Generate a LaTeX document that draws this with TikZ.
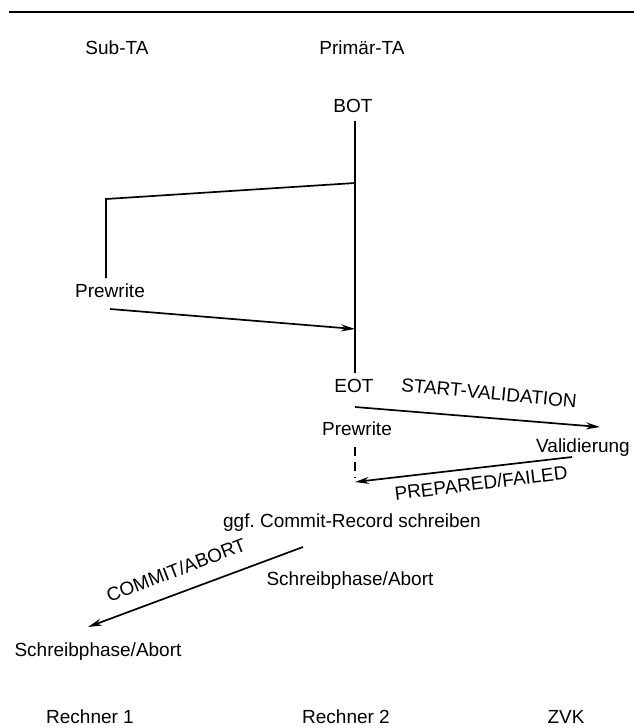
\documentclass[tikz,border=0pt]{standalone}
\usepackage{fontspec}
\setmainfont{Liberation Sans}
\usetikzlibrary{arrows.meta}
\begin{document}
\begin{tikzpicture}[x=1pt,y=-1pt,
  lbl/.style={inner sep=0pt, font=\fontsize{19}{22}\selectfont},
  ln/.style={line width=1.7pt},
  arr/.style={ln,-{Stealth[length=14pt,width=7pt]}}]
\useasboundingbox (0,0) rectangle (634,728);
% top rule
\coordinate (r1) at (9,12);
\coordinate (r2) at (634,12);
\draw[line width=2.8pt] (r1) -- (r2);
% headers
\node[lbl] (subta) at (117,48) {Sub-TA};
\node[lbl] (primta) at (362,48) {Primär-TA};
\node[lbl] (bot) at (353,106) {BOT};
% primary lifeline
\coordinate (v1) at (355,121);
\coordinate (v2) at (355,373);
\draw[ln] (v1) -- (v2);
% sub TA branch
\coordinate (b1) at (355,183);
\coordinate (b2) at (106,199);
\coordinate (b3) at (106,278);
\draw[ln] (b1) -- (b2) -- (b3);
\node[lbl] (pwl) at (110,291) {Prewrite};
\coordinate (a1) at (110,309);
\coordinate (a2) at (355,329);
\draw[arr] (a1) -- (a2);
% EOT
\node[lbl] (eot) at (354,386) {EOT};
\coordinate (s1) at (355,407);
\coordinate (s2) at (600,427);
\draw[arr] (s1) -- (s2);
\node[lbl, rotate=-5.5] (sv) at (489,393) {START-VALIDATION};
\node[lbl] (pwr) at (357,429) {Prewrite};
\node[lbl] (val) at (583,448) {Validierung};
\coordinate (d1) at (355,447);
\coordinate (d2) at (355,478);
\draw[ln, dash pattern=on 9pt off 6pt] (d1) -- (d2);
\coordinate (p1) at (572,457);
\coordinate (p2) at (355,482);
\draw[arr] (p1) -- (p2);
\node[lbl, rotate=7] (pf) at (481,483) {PREPARED/FAILED};
\node[lbl] (ggf) at (352,523) {ggf.\ Commit-Record schreiben};
\coordinate (c1) at (303,547);
\coordinate (c2) at (88,627);
\draw[arr] (c1) -- (c2);
\node[lbl, rotate=21] (ca) at (176,570) {COMMIT/ABORT};
\node[lbl] (spr) at (350,581) {Schreibphase/Abort};
\node[lbl] (spl) at (98,652) {Schreibphase/Abort};
% footer
\node[lbl] (r1n) at (90,717) {Rechner 1};
\node[lbl] (r2n) at (346,717) {Rechner 2};
\node[lbl] (zvk) at (566,717) {ZVK};
\end{tikzpicture}
\end{document}
